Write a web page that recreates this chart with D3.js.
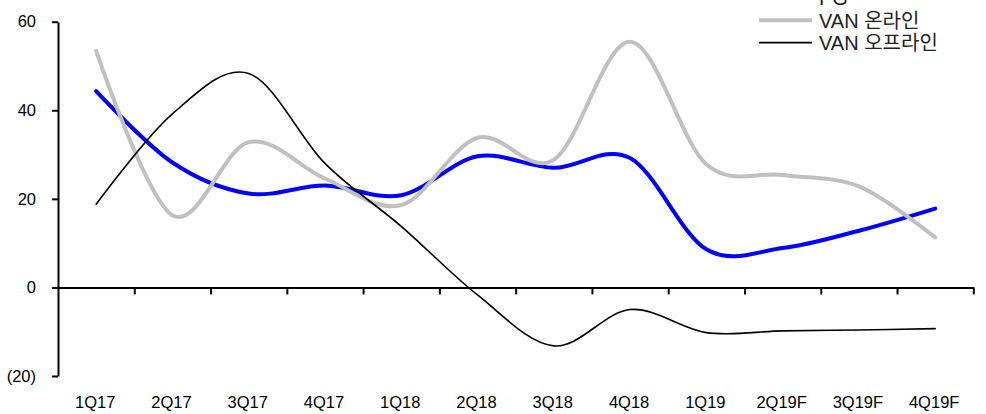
<!DOCTYPE html>
<html>
<head>
<meta charset="utf-8">
<script src="https://cdn.jsdelivr.net/npm/d3@7"></script>
<style>
  body { margin: 0; background: #fff; }
  svg { display: block; font-family: "Liberation Sans", Arial, "Noto Sans CJK KR", sans-serif; }
</style>
</head>
<body>
<svg id="chart" width="986" height="414"></svg>
<script>
// quarters on the x axis
const categories = ['1Q17', '2Q17', '3Q17', '4Q17', '1Q18', '2Q18', '3Q18', '4Q18', '1Q19', '2Q19F', '3Q19F', '4Q19F'];
// series values (%)
const pg = [44.3, 28.2, 21.2, 23.0, 20.8, 29.6, 27.0, 29.2, 8.6, 8.9, 12.8, 17.8];
const vanOnline = [53.4, 16.3, 32.8, 24.6, 18.6, 33.8, 28.8, 55.5, 27.8, 25.4, 22.8, 11.3];
const vanOffline = [18.8, 39.2, 48.3, 28.0, 13.8, -1.7, -13.2, -5.0, -10.2, -9.8, -9.6, -9.3];
const yTicks = [-20, 0, 20, 40, 60];
const seriesNames = ['PG', 'VAN 온라인', 'VAN 오프라인'];

const svg = d3.select('#chart');

// plot area
const plotLeft = 58, plotRight = 973.3, plotTop = 21.7, plotBottom = 376;

const x = d3.scaleBand().domain(categories).range([plotLeft, plotRight]).padding(0);
const y = d3.scaleLinear().domain([-20, 60]).range([plotBottom, plotTop]);
// boundaries between quarters, used for the x tick marks
const xEdge = d3.scaleLinear().domain([0, categories.length]).range([plotLeft, plotRight]);

// y axis
const yAxis = svg.append('g')
    .attr('transform', `translate(${plotLeft},0)`)
    .call(d3.axisLeft(y)
        .tickValues(yTicks)
        .tickSize(6)
        .tickSizeOuter(0)
        .tickPadding(16)
        .tickFormat(d => d < 0 ? `(${Math.abs(d)})` : d));
yAxis.select('.domain').attr('stroke-width', 2);
yAxis.selectAll('.tick line').attr('stroke-width', 2);
yAxis.selectAll('text').attr('font-size', 16.5).attr('fill', '#000');

// x axis line along zero with tick marks between quarters
const xAxis = svg.append('g')
    .attr('transform', `translate(0,${y(0)})`)
    .call(d3.axisBottom(xEdge)
        .tickValues(d3.range(1, categories.length + 1))
        .tickSize(7)
        .tickSizeOuter(0)
        .tickFormat(''));
xAxis.select('.domain').attr('stroke-width', 2);
xAxis.selectAll('.tick line').attr('stroke-width', 2);

// category labels under the plot
const xLabels = svg.append('g')
    .attr('transform', `translate(-1,396)`)
    .call(d3.axisBottom(x).tickSize(0).tickPadding(0));
xLabels.select('.domain').remove();
xLabels.selectAll('text').attr('font-size', 16.5).attr('fill', '#000');

// smooth lines
const line = d3.line()
    .x((d, i) => x(categories[i]) + x.bandwidth() / 2)
    .y(d => y(d))
    .curve(d3.curveCardinal.tension(0));

const series = [
    { name: seriesNames[0], values: pg, color: '#0000ff', width: 4 },
    { name: seriesNames[1], values: vanOnline, color: '#c0c0c0', width: 4 },
    { name: seriesNames[2], values: vanOffline, color: '#000000', width: 1.6 }
];

svg.append('g').selectAll('path')
    .data(series)
    .join('path')
    .attr('d', d => line(d.values))
    .attr('fill', 'none')
    .attr('stroke', d => d.color)
    .attr('stroke-width', d => d.width)
    .attr('stroke-linecap', 'round');

// legend, top right (first entry runs off the top edge, as in the source)
const legend = svg.append('g').attr('transform', 'translate(759,-2)');
const item = legend.selectAll('g')
    .data(series)
    .join('g')
    .attr('transform', (d, i) => `translate(0,${i * 22.3})`);
item.append('line')
    .attr('x1', 0).attr('x2', 53)
    .attr('stroke', d => d.color)
    .attr('stroke-width', d => d.width);
item.append('text')
    .attr('x', 60)
    .attr('dy', '0.36em')
    .attr('font-size', 20)
    .attr('fill', '#222')
    .text(d => d.name);
</script>
</body>
</html>
